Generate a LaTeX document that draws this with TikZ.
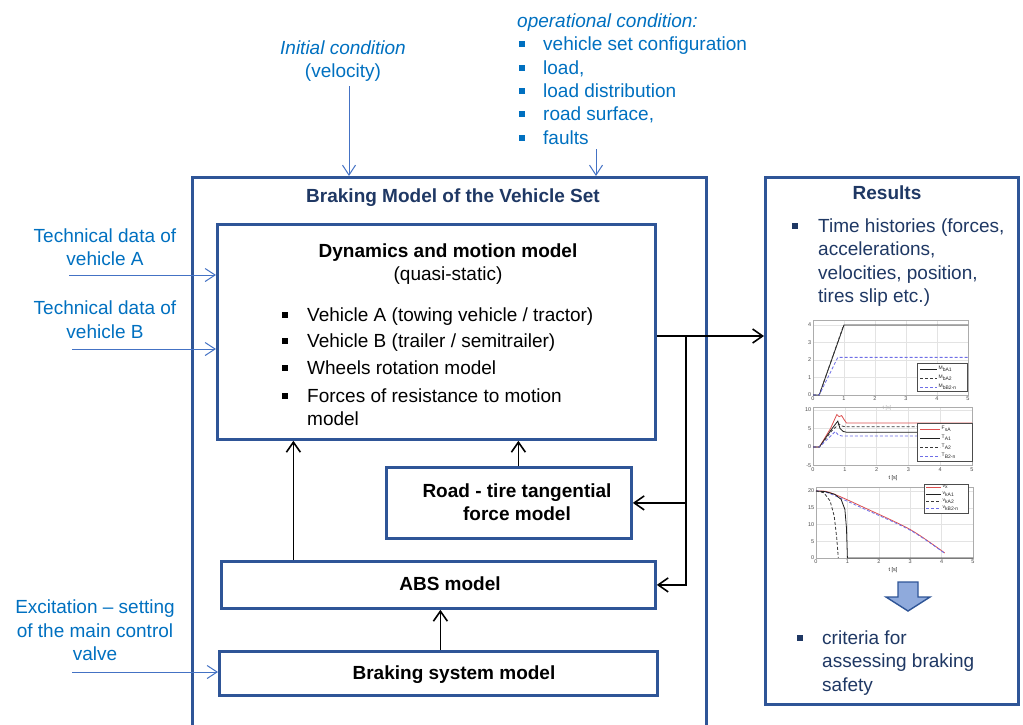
\documentclass[tikz,border=0pt]{standalone}
\usepackage{fontspec}
\setmainfont{Liberation Sans}
\usetikzlibrary{arrows.meta}
\definecolor{boxblue}{RGB}{47,85,151}
\definecolor{inblue}{RGB}{0,112,192}
\definecolor{inline}{RGB}{68,114,196}
\definecolor{navy}{RGB}{31,56,100}
\definecolor{arrfill}{RGB}{143,170,220}
\definecolor{plred}{RGB}{220,80,80}
\definecolor{plblue}{RGB}{110,110,230}
\newcommand\mysize{\fontsize{19}{23}\selectfont}
\newcommand\ticksize{\fontsize{5.5}{6}\selectfont}
\begin{document}
\begin{tikzpicture}[x=1pt,y=-1pt,
  box/.style={draw=boxblue, line width=2.8pt, fill=white, inner sep=0pt},
  con/.style={draw=black, line width=1.6pt},
  arr/.style={con, -{Straight Barb[length=10pt,width=14pt]}},
  inarr/.style={draw=inline, line width=1pt, -{Straight Barb[length=10pt,width=13pt]}},
  txt/.style={font=\mysize, inner sep=0pt},
  intxt/.style={txt, text=inblue},
  btxt/.style={txt, font=\mysize\bfseries},
  bul/.style={inner sep=0pt, minimum size=6.5pt, fill=black},
  gridc/.style={draw=gray!22, line width=0.4pt},
  axc/.style={draw=gray!65, line width=0.5pt},
  tick/.style={font=\ticksize, text=gray!60!black, inner sep=1pt},
  leg/.style={font=\fontsize{5}{5}\selectfont, text=gray!30!black, inner sep=0.5pt},
  legbox/.style={draw=gray!60!black, line width=0.5pt, fill=white},
  kl/.style={draw=gray!25!black, line width=0.8pt},
  kd/.style={draw=gray!45!black, line width=0.8pt, dash pattern=on 3pt off 2pt},
  bd/.style={draw=plblue, line width=0.8pt, dash pattern=on 3pt off 2pt},
  rl/.style={draw=plred, line width=0.8pt}
]
\useasboundingbox (0,0) rectangle (1023,724);

% ---------- boxes ----------
\node[box, anchor=north west, minimum width=514pt, minimum height=570pt] (outer) at (191,176) {};
\node[box, anchor=north west, minimum width=253pt, minimum height=527pt] (res) at (764,176) {};
\node[box, anchor=north west, minimum width=438pt, minimum height=215pt] (dyn) at (216,223) {};
\node[box, anchor=north west, minimum width=245pt, minimum height=71pt] (road) at (385,466) {};
\node[box, anchor=north west, minimum width=434pt, minimum height=47pt] (abs) at (220,560) {};
\node[box, anchor=north west, minimum width=438pt, minimum height=44pt] (brk) at (218,650) {};

% ---------- top inputs ----------
\node[intxt, font=\mysize\itshape, anchor=base] (ic1) at (343,54) {Initial condition};
\node[intxt, anchor=base] (ic2) at (343,77) {(velocity)};
\coordinate (icA) at (349,86);
\draw[inarr] (icA) -- (icA |- outer.north);

\node[intxt, font=\mysize\itshape, anchor=base west] (op0) at (517,27) {operational condition:};
\node[intxt, anchor=base west] (op1) at (543,50) {vehicle set configuration};
\node[intxt, anchor=base west] (op2) at (543,74) {load,};
\node[intxt, anchor=base west] (op3) at (543,97) {load distribution};
\node[intxt, anchor=base west] (op4) at (543,120) {road surface,};
\node[intxt, anchor=base west] (op5) at (543,144) {faults};
\node[bul, fill=inblue] (ob1) at (522,44) {};
\node[bul, fill=inblue] (ob2) at (522,68) {};
\node[bul, fill=inblue] (ob3) at (522,91) {};
\node[bul, fill=inblue] (ob4) at (522,114) {};
\node[bul, fill=inblue] (ob5) at (522,138) {};
\coordinate (opA) at (596,149);
\draw[inarr] (opA) -- (opA |- outer.north);

% ---------- left inputs ----------
\node[intxt, anchor=base] (ta1) at (105,242) {Technical data of};
\node[intxt, anchor=base] (ta2) at (105,265) {vehicle A};
\coordinate (inA) at (69,275);
\draw[inarr] (inA) -- (inA -| dyn.west);

\node[intxt, anchor=base] (tb1) at (105,314) {Technical data of};
\node[intxt, anchor=base] (tb2) at (105,338) {vehicle B};
\coordinate (inB) at (72,349);
\draw[inarr] (inB) -- (inB -| dyn.west);

\node[intxt, anchor=base] (ex1) at (95,613) {Excitation -- setting};
\node[intxt, anchor=base] (ex2) at (95,637) {of the main control};
\node[intxt, anchor=base] (ex3) at (95,660) {valve};
\coordinate (inE) at (72,672);
\draw[inarr] (inE) -- (inE -| brk.west);

% ---------- box texts ----------
\node[btxt, text=navy, anchor=base] (ttl) at (453,202) {Braking Model of the Vehicle Set};
\node[btxt, anchor=base] (dt1) at (448,257) {Dynamics and motion model};
\node[txt, anchor=base] (dt2) at (448,280) {(quasi-static)};
\node[txt, anchor=base west] (di1) at (307,321) {Vehicle A (towing vehicle / tractor)};
\node[txt, anchor=base west] (di2) at (307,347) {Vehicle B (trailer / semitrailer)};
\node[txt, anchor=base west] (di3) at (307,374) {Wheels rotation model};
\node[txt, anchor=base west] (di4) at (307,402) {Forces of resistance to motion};
\node[txt, anchor=base west] (di5) at (307,425) {model};
\node[bul] (db1) at (285,315) {};
\node[bul] (db2) at (285,341) {};
\node[bul] (db3) at (285,368) {};
\node[bul] (db4) at (285,396) {};

\node[btxt, anchor=base] (rt1) at (517,497) {Road - tire tangential};
\node[btxt, anchor=base] (rt2) at (517,520) {force model};
\node[btxt, anchor=base] (at1) at (450,590) {ABS model};
\node[btxt, anchor=base] (bt1) at (454,679) {Braking system model};

% ---------- results texts ----------
\node[btxt, text=navy, anchor=base] (rs0) at (887,199) {Results};
\node[txt, text=navy, anchor=base west] (rs1) at (818,232) {Time histories (forces,};
\node[txt, text=navy, anchor=base west] (rs2) at (818,255) {accelerations,};
\node[txt, text=navy, anchor=base west] (rs3) at (818,279) {velocities, position,};
\node[txt, text=navy, anchor=base west] (rs4) at (818,302) {tires slip etc.)};
\node[bul, fill=navy] (rb1) at (795,226) {};
\node[txt, text=navy, anchor=base west] (cr1) at (822,644) {criteria for};
\node[txt, text=navy, anchor=base west] (cr2) at (822,667) {assessing braking};
\node[txt, text=navy, anchor=base west] (cr3) at (822,691) {safety};
\node[bul, fill=navy] (rb2) at (800,638) {};

% ---------- connectors ----------
\coordinate (sp) at (686,336);
\draw[con] (dyn.east |- sp) -- (sp);
\draw[arr] (sp) -- (sp -| res.west);
\draw[arr] (sp) |- (road.east);
\draw[arr] (sp) |- (abs.east);
\coordinate (a1) at ([xshift=-145pt]abs.north);
\draw[arr] (a1) -- (a1 |- dyn.south);
\coordinate (r1) at ([xshift=9.5pt]road.north);
\draw[arr] (r1) -- (r1 |- dyn.south);
\coordinate (b1) at ([xshift=2pt]brk.north);
\draw[arr] (b1) -- (b1 |- abs.south);

% ---------- plot 1 ----------
\begin{scope}[shift={(813,395)}, xscale=31, yscale=-17.5]
  \foreach \t in {1,...,4} \draw[gridc] (\t,0) -- (\t,4.3);
  \foreach \v in {1,...,4} \draw[gridc] (0,\v) -- (5,\v);
  \draw[axc] (0,0) rectangle (5,4.3);
  \foreach \t in {0,...,5} \node[tick, anchor=north] (pax\t) at (\t,-0.05) {\t};
  \foreach \v in {0,...,4} \node[tick, anchor=east] (pay\v) at (-0.02,\v) {\v};
  \draw[kl] (0,0) -- (0.2,0) -- (1,4) -- (5,4);
  \draw[kd] (0,0) -- (0.2,0) -- (0.98,3.95);
  \draw[bd] (0,0) -- (0.2,0) -- (0.8,2.15) -- (5,2.15);
\end{scope}
\node[tick, text=gray!50] (pat) at (887,408) {t [s]};
\draw[legbox] (917,363) rectangle (967,391);
\draw[kl] (920,369) -- (937,369); \node[leg, anchor=west] (l11) at (938,369) {M\textsubscript{bA1}};
\draw[kd] (920,378) -- (937,378); \node[leg, anchor=west] (l12) at (938,378) {M\textsubscript{bA2}};
\draw[bd] (920,387) -- (937,387); \node[leg, anchor=west] (l13) at (938,387) {M\textsubscript{bB2-n}};

% ---------- plot 2 ----------
\begin{scope}[shift={(813,447)}, xscale=31.8, yscale=-3.7]
  \foreach \t in {1,...,4} \draw[gridc] (\t,-5) -- (\t,10.8);
  \foreach \v in {0,5,10} \draw[gridc] (0,\v) -- (5,\v);
  \draw[axc] (0,-5) rectangle (5,10.8);
  \foreach \t in {0,...,5} \node[tick, anchor=north] (pbx\t) at (\t,-5.2) {\t};
  \foreach \v/\n in {10/a,5/b,0/c,-5/d} \node[tick, anchor=east] (pby\n) at (-0.02,\v) {\v};
  \draw[rl] (0,0) -- (0.2,0) -- (0.55,5) -- (0.75,8.8) -- (0.82,8.2) -- (0.9,8.5) -- (0.97,7.5) -- (1.05,6.5) -- (5,6.5);
  \draw[kl] (0,0) -- (0.2,0) -- (0.6,5) -- (0.78,7) -- (0.85,5) -- (0.95,4.2) -- (1.05,4) -- (5,4);
  \draw[kd] (0,0) -- (0.2,0) -- (0.6,4.5) -- (0.82,6.2) -- (0.9,5.7) -- (1.0,5.5) -- (5,5.5);
  \draw[bd] (0,0) -- (0.2,0) -- (0.5,2.5) -- (0.7,4.2) -- (0.8,3.2) -- (0.9,3) -- (5,3);
\end{scope}
\node[tick, text=gray!30!black] (pbt) at (893,478) {t [s]};
\draw[legbox] (917,423) rectangle (972,461);
\draw[rl] (920,429) -- (940,429); \node[leg, anchor=west] (l21) at (941,429) {F\textsubscript{sA}};
\draw[kl] (920,438) -- (940,438); \node[leg, anchor=west] (l22) at (941,438) {T\textsubscript{A1}};
\draw[kd] (920,447) -- (940,447); \node[leg, anchor=west] (l23) at (941,447) {T\textsubscript{A2}};
\draw[bd] (920,456) -- (940,456); \node[leg, anchor=west] (l24) at (941,456) {T\textsubscript{B2-n}};

% ---------- plot 3 ----------
\begin{scope}[shift={(816,558)}, xscale=31.4, yscale=-3.35]
  \foreach \t in {1,...,4} \draw[gridc] (\t,0) -- (\t,21);
  \foreach \v in {5,10,15,20} \draw[gridc] (0,\v) -- (5,\v);
  \draw[axc] (0,0) rectangle (5,21);
  \foreach \t in {0,...,5} \node[tick, anchor=north] (pcx\t) at (\t,-0.2) {\t};
  \foreach \v in {0,5,10,15,20} \node[tick, anchor=east] (pcy\v) at (-0.02,\v) {\v};
  \draw[rl] plot[smooth] coordinates {(0,20) (0.3,19.9) (0.7,18.6) (1.5,15.2) (3,8.5) (4.1,1.5)};
  \draw[bd] plot[smooth] coordinates {(0,20) (0.3,19.7) (0.7,18.2) (1.5,14.8) (3,8.3) (4.1,1.4)};
  \draw[kl] (0,20) -- (0.3,19.8) -- (0.6,19) -- (0.8,17.5) -- (0.92,14.5) -- (0.97,9) -- (1.0,0) -- (5,0);
  \draw[kd] (0,20) -- (0.25,19.5) -- (0.45,17) -- (0.58,12.5) -- (0.66,6) -- (0.71,0);
\end{scope}
\node[tick, text=gray!30!black] (pct) at (893,570) {t [s]};
\draw[legbox] (924,484) rectangle (968,513);
\draw[rl] (926,487) -- (941,487); \node[leg, anchor=west] (l31) at (942,487) {v\textsubscript{x}};
\draw[kl] (926,494) -- (941,494); \node[leg, anchor=west] (l32) at (942,494) {v\textsubscript{kA1}};
\draw[kd] (926,501) -- (941,501); \node[leg, anchor=west] (l33) at (942,501) {v\textsubscript{kA2}};
\draw[bd] (926,508) -- (941,508); \node[leg, anchor=west] (l34) at (942,508) {v\textsubscript{kB2-n}};

% ---------- big arrow ----------
\filldraw[fill=arrfill, draw=boxblue, line width=1.4pt, line join=miter]
  (898,582) -- (918,582) -- (918,597) -- (930,597) -- (908,611) -- (886,597) -- (898,597) -- cycle;
\end{tikzpicture}
\end{document}
